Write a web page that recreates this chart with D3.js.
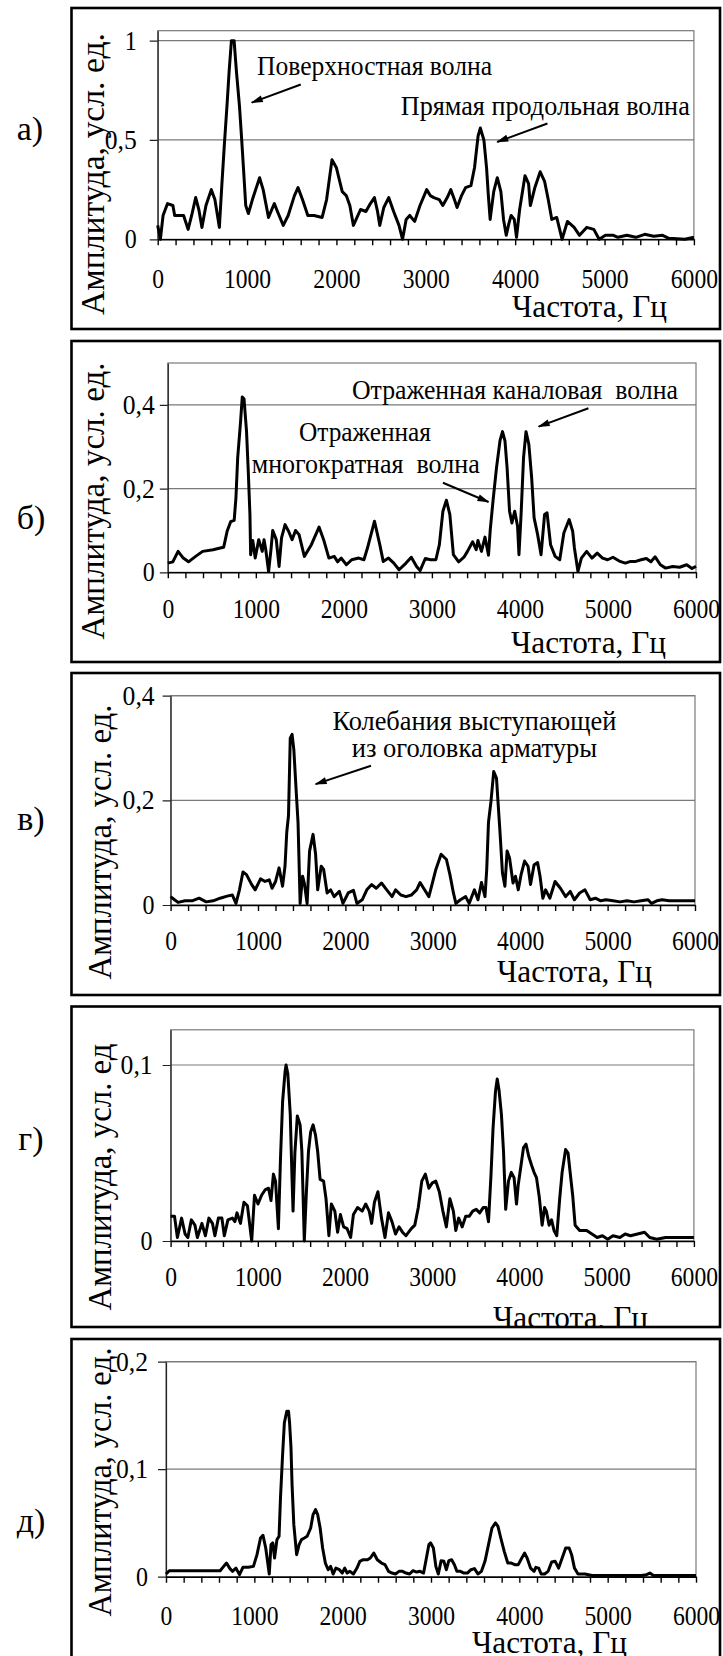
<!DOCTYPE html>
<html>
<head>
<meta charset="utf-8">
<script src="https://cdn.jsdelivr.net/npm/d3@7"></script>
<style>
  body { margin: 0; background: #fff; }
  svg { display: block; font-family: "Liberation Serif", "Times New Roman", serif; }
  text { white-space: pre; }
</style>
</head>
<body>
<svg width="723" height="1656"></svg>
<script>

// ------------- DATA -------------
const xMajor = [0, 1000, 2000, 3000, 4000, 5000, 6000];
const xMinorStep = 200;

const freqA = [0,30,60,110,170,190,290,340,380,425,460,495,540,600,640,690,720,745,775,800,825,855,880,915,940,965,985,1015,1060,1140,1180,1240,1305,1340,1405,1460,1530,1570,1620,1680,1750,1840,1890,1950,2000,2065,2110,2150,2190,2270,2330,2380,2425,2460,2485,2530,2585,2640,2700,2740,2780,2820,2875,2935,3010,3050,3090,3150,3190,3240,3280,3320,3350,3400,3445,3505,3545,3585,3610,3650,3680,3700,3720,3760,3800,3840,3870,3900,3930,3955,3990,4015,4050,4110,4150,4170,4220,4280,4330,4370,4410,4465,4525,4585,4660,4720,4800,4880,4940,5010,5100,5150,5250,5350,5450,5550,5650,5720,5900,6000];
const ampA  = [0.07,0,0.12,0.18,0.17,0.12,0.12,0.05,0.12,0.21,0.15,0.06,0.17,0.25,0.2,0.06,0.29,0.47,0.67,0.85,1,1,0.85,0.67,0.5,0.32,0.17,0.13,0.2,0.31,0.25,0.11,0.18,0.14,0.07,0.12,0.22,0.26,0.2,0.12,0.12,0.11,0.2,0.4,0.36,0.24,0.22,0.17,0.07,0.15,0.14,0.18,0.21,0.14,0.07,0.16,0.21,0.14,0.07,0,0.1,0.12,0.09,0.17,0.25,0.22,0.21,0.2,0.17,0.21,0.25,0.2,0.16,0.22,0.26,0.27,0.36,0.52,0.56,0.5,0.36,0.22,0.1,0.24,0.31,0.24,0.1,0.02,0.08,0.12,0.1,0.01,0.15,0.32,0.28,0.17,0.26,0.34,0.29,0.2,0.1,0.11,0,0.09,0.06,0.02,0.06,0.05,0,0.02,0.02,0.01,0.02,0.01,0.025,0.015,0.02,0.005,0,0.01];

const freqB = [0,57,117,176,235,316,396,515,595,635,674,714,754,774,794,826,846,866,894,914,933,941,965,993,1033,1073,1093,1113,1145,1172,1192,1232,1264,1292,1332,1372,1412,1451,1491,1551,1631,1718,1770,1830,1890,1930,1970,2029,2089,2169,2228,2268,2348,2408,2447,2507,2567,2627,2706,2766,2826,2866,2925,2985,3045,3085,3125,3165,3204,3244,3304,3364,3404,3463,3503,3523,3563,3603,3643,3663,3694,3734,3774,3802,3830,3854,3882,3909,3941,3973,3989,4013,4041,4069,4101,4133,4161,4201,4240,4280,4308,4348,4400,4452,4499,4559,4599,4619,4659,4698,4758,4818,4878,4938,4997,5057,5137,5197,5257,5316,5376,5436,5488,5536,5595,5655,5735,5814,5894,5954,6000];
const ampB  = [0.022,0.025,0.05,0.034,0.025,0.038,0.05,0.054,0.058,0.06,0.098,0.121,0.124,0.178,0.274,0.358,0.419,0.414,0.338,0.242,0.138,0.042,0.076,0.034,0.078,0.05,0.078,0.054,0.002,0.054,0.1,0.078,0.014,0.082,0.114,0.098,0.078,0.1,0.09,0.038,0.066,0.108,0.078,0.034,0.038,0.025,0.034,0.018,0.03,0.034,0.03,0.058,0.122,0.066,0.026,0.034,0.022,0.006,0.022,0.036,0.014,0.004,0.033,0.03,0.03,0.066,0.146,0.172,0.138,0.042,0.025,0.036,0.05,0.073,0.054,0.076,0.05,0.084,0.041,0.102,0.17,0.25,0.315,0.336,0.314,0.25,0.146,0.118,0.146,0.11,0.042,0.138,0.274,0.336,0.306,0.226,0.13,0.09,0.042,0.138,0.142,0.066,0.038,0.03,0.094,0.126,0.098,0.058,0.002,0.034,0.05,0.034,0.046,0.034,0.03,0.036,0.026,0.022,0.026,0.026,0.03,0.033,0.025,0.037,0.018,0.01,0.014,0.012,0.018,0.009,0.014];

const freqC = [0,45,85,166,246,326,407,487,567,647,707,748,788,828,868,928,968,1029,1081,1129,1161,1201,1241,1281,1309,1329,1349,1369,1390,1410,1442,1458,1482,1510,1530,1562,1590,1630,1659,1683,1723,1751,1791,1831,1871,1931,1972,2032,2092,2132,2192,2245,2301,2353,2413,2473,2534,2574,2634,2694,2754,2815,2855,2895,2955,2995,3035,3095,3156,3196,3236,3264,3316,3376,3416,3476,3517,3557,3597,3617,3637,3665,3697,3729,3745,3769,3797,3825,3850,3878,3918,3946,3978,4010,4050,4090,4118,4159,4199,4227,4259,4291,4339,4399,4460,4520,4572,4620,4680,4741,4801,4861,4921,4981,5062,5142,5222,5302,5383,5463,5503,5563,5623,5704,5784,5864,6000];
const ampC  = [0.016,0.01,0.005,0.008,0.008,0.013,0.006,0.008,0.013,0.017,0.019,0.003,0.029,0.063,0.058,0.039,0.029,0.05,0.045,0.048,0.032,0.045,0.071,0.036,0.074,0.139,0.171,0.319,0.326,0.297,0.203,0.158,0.003,0.055,0.042,0.003,0.103,0.135,0.097,0.029,0.074,0.068,0.023,0.029,0.016,0.026,0.003,0.023,0.028,0.003,0.01,0.029,0.039,0.032,0.042,0.029,0.016,0.029,0.019,0.016,0.019,0.029,0.043,0.032,0.016,0.042,0.068,0.097,0.087,0.058,0.023,0.003,0.01,0.016,0.003,0.029,0.01,0.043,0.016,0.068,0.158,0.197,0.255,0.242,0.2,0.139,0.061,0.036,0.103,0.09,0.042,0.055,0.029,0.058,0.084,0.074,0.039,0.077,0.081,0.055,0.013,0.029,0.013,0.045,0.032,0.016,0.026,0.01,0.023,0.029,0.01,0.013,0.008,0.01,0.008,0.006,0.008,0.006,0.008,0.01,0.003,0.008,0.01,0.008,0.008,0.008,0.008];

const freqD = [0,45,78,126,166,198,238,279,307,359,399,439,480,508,548,588,616,657,709,737,761,801,841,881,930,962,1002,1043,1083,1123,1151,1179,1203,1236,1260,1284,1312,1324,1344,1372,1392,1404,1425,1453,1485,1505,1533,1557,1581,1606,1634,1662,1686,1714,1754,1782,1815,1843,1883,1915,1947,1984,2024,2064,2096,2144,2197,2237,2277,2305,2337,2377,2418,2458,2498,2538,2579,2619,2659,2699,2760,2800,2840,2880,2921,2961,3001,3041,3081,3122,3162,3202,3242,3270,3303,3343,3383,3423,3464,3504,3544,3584,3616,3645,3673,3697,3725,3745,3765,3793,3817,3842,3874,3906,3938,3966,3986,4018,4046,4075,4107,4139,4167,4195,4227,4260,4288,4308,4340,4368,4396,4428,4461,4489,4529,4557,4581,4610,4638,4690,4770,4831,4891,4951,5012,5072,5152,5212,5273,5353,5434,5494,5574,5675,5755,5836,5916,6000];
const ampD  = [0.014,0.014,0.002,0.013,0.004,0.002,0.012,0.009,0.002,0.01,0.003,0.013,0.01,0.003,0.013,0.013,0.003,0.012,0.013,0.011,0.016,0.01,0.022,0.02,0,0.026,0.021,0.026,0.029,0.03,0.023,0.038,0.034,0.007,0.047,0.079,0.096,0.1,0.095,0.072,0.036,0.017,0.05,0.071,0.066,0.051,0,0.028,0.051,0.062,0.066,0.06,0.051,0.035,0.034,0.024,0.003,0.021,0.017,0.005,0.015,0.008,0.007,0.002,0.015,0.019,0.017,0.021,0.017,0.01,0.022,0.028,0.013,0.002,0.016,0.011,0.004,0.008,0.005,0.003,0.007,0.009,0.019,0.034,0.038,0.03,0.033,0.034,0.028,0.017,0.008,0.024,0.017,0.006,0.013,0.008,0.014,0.014,0.017,0.018,0.016,0.019,0.019,0.011,0.037,0.064,0.085,0.092,0.086,0.072,0.051,0.018,0.034,0.039,0.036,0.021,0.032,0.043,0.053,0.055,0.048,0.043,0.039,0.036,0.025,0.009,0.019,0.017,0.009,0.012,0.006,0.003,0.024,0.039,0.052,0.05,0.039,0.026,0.009,0.006,0.006,0.004,0.002,0.003,0.001,0.003,0.002,0.004,0.003,0.004,0.005,0.002,0.001,0.002,0.002,0.002,0.002,0.002];

const freqE = [0,37,216,415,613,653,685,724,752,792,832,871,931,990,1030,1070,1098,1129,1169,1189,1209,1229,1256,1280,1296,1320,1340,1368,1387,1399,1415,1427,1447,1479,1507,1534,1566,1598,1638,1665,1693,1717,1745,1773,1804,1836,1864,1892,1923,1963,1995,2023,2051,2082,2122,2162,2194,2233,2281,2313,2352,2392,2440,2479,2519,2559,2598,2638,2678,2717,2757,2797,2837,2876,2916,2948,2976,2996,3027,3055,3083,3115,3146,3174,3202,3234,3265,3293,3333,3373,3412,3452,3492,3531,3571,3611,3651,3690,3730,3758,3790,3829,3869,3909,3949,3988,4028,4060,4088,4127,4167,4187,4219,4247,4286,4326,4366,4406,4445,4485,4525,4564,4592,4624,4664,4743,4823,5379,5439,5478,5518,5617,5776,6000];
const ampE  = [0.0025,0.0056,0.0056,0.0056,0.0056,0.0096,0.0127,0.0075,0.005,0.008,0.0019,0.0087,0.0087,0.0096,0.0205,0.036,0.0385,0.0267,0.0025,0.0298,0.0314,0.0174,0.0345,0.0376,0.0733,0.1137,0.1432,0.154,0.154,0.1432,0.12,0.0857,0.0484,0.0205,0.0298,0.0345,0.036,0.0376,0.0453,0.0578,0.0624,0.0578,0.0453,0.0267,0.0127,0.0065,0.0096,0.0025,0.008,0.0065,0.0034,0.008,0.0034,0.005,0.0025,0.008,0.0143,0.0158,0.0158,0.0174,0.022,0.0158,0.0127,0.0112,0.005,0.0034,0.0025,0.005,0.005,0.0034,0.0025,0.0056,0.0043,0.005,0.0034,0.0174,0.0298,0.0314,0.0267,0.0096,0.0025,0.0149,0.0143,0.0065,0.0149,0.0158,0.0112,0.005,0.005,0.0034,0.0034,0.0065,0.0075,0.0025,0.005,0.0143,0.0298,0.0453,0.05,0.0469,0.036,0.0236,0.0127,0.0127,0.0112,0.0112,0.0174,0.022,0.0174,0.008,0.005,0.0087,0.008,0.0025,0.0025,0.005,0.0137,0.0143,0.008,0.0174,0.0267,0.0267,0.0205,0.008,0.0025,0.0025,0.0012,0.0012,0.0019,0.0034,0.0012,0.0012,0.0012,0.0012];

const yTicksA = [0, 0.5, 1];
const yTicksB = [0, 0.2, 0.4];
const yTicksC = [0, 0.2, 0.4];
const yTicksD = [0, 0.1];
const yTicksE = [0, 0.1, 0.2];

const letters = ["а)", "б)", "в)", "г)", "д)"];
const yTitles = ["Амплитуда, усл. ед.", "Амплитуда, усл. ед.", "Амплитуда, усл. ед.", "Амплитуда, усл. ед", "Амплитуда, усл. ед."];
const xTitle = "Частота, Гц";

const notesA = ["Поверхностная волна", "Прямая продольная волна"];
const notesB = ["Отраженная каналовая  волна", "Отраженная", "многократная  волна"];
const notesC = ["Колебания выступающей", "из оголовка арматуры"];

// ------------- LAYOUT -------------
const panels = [
  {freq: freqA, amp: ampA, yMax: 1.05, yTicks: yTicksA,
   box: [71.5, 8, 720, 329], plot: [157.7, 693.9, 30.7, 239.3],
   yPad: 13, yTitlePos: [92, 174], yTitleLen: 282, xPad: 30, xTitlePos: [667, 317], letterPos: [30, 128],
   notes: notesA, notePos: [[1111, 0.826, 235], [2720, 0.625, 289]],
   arrows: [[1601, 0.779, 1052, 0.688], [4361, 0.583, 3799, 0.49]]},
  {freq: freqB, amp: ampB, yMax: 0.5, yTicks: yTicksB,
   box: [71.5, 341, 720, 662], plot: [167.8, 696, 363, 572.3],
   yPad: 5, yTitlePos: [92, 501], yTitleLen: 277, xPad: 27, xTitlePos: [666, 653], letterPos: [31, 517],
   notes: notesB, notePos: [[2092, 0.415, 326], [1490, 0.3145, 132], [953, 0.238, 228]],
   arrows: [[4778, 0.392, 4212, 0.348], [3125, 0.214, 3643, 0.168]]},
  {freq: freqC, amp: ampC, yMax: 0.4, yTicks: yTicksC,
   box: [71.5, 673, 720, 995], plot: [170.6, 695, 695.7, 905],
   yPad: 8, yTitlePos: [99, 842], yTitleLen: 275, xPad: 26, xTitlePos: [652, 982], letterPos: [31, 818],
   notes: notesC, notePos: [[1851, 0.335, 284], [2072, 0.283, 245.5]],
   arrows: [[2293, 0.266, 1659, 0.231]]},
  {freq: freqD, amp: ampD, yMax: 0.12, yTicks: yTicksD,
   box: [71.5, 1006.5, 720, 1327], plot: [170.6, 693.9, 1029.8, 1241],
   yPad: 10, yTitlePos: [99, 1177], yTitleLen: 267, xPad: 26, xTitlePos: [648, 1328], letterPos: [31, 1138],
   notes: [], notePos: [], arrows: []},
  {freq: freqE, amp: ampE, yMax: 0.2, yTicks: yTicksE,
   box: [71.5, 1339, 720, 1690], plot: [166, 696, 1361.7, 1576.7],
   yPad: 10, yTitlePos: [99, 1482], yTitleLen: 269, xPad: 29, xTitlePos: [627, 1653], letterPos: [31, 1520],
   notes: [], notePos: [], arrows: []}
];

const ru = d3.formatLocale({decimal: ",", thousands: "", grouping: [3], currency: ["", ""]});
const fmt = ru.format("~g");

const svg = d3.select("svg");
const defs = svg.append("defs");
defs.append("marker")
    .attr("id", "arrow")
    .attr("viewBox", "0 0 12 8")
    .attr("refX", 11).attr("refY", 4)
    .attr("markerUnits", "userSpaceOnUse")
    .attr("markerWidth", 13).attr("markerHeight", 8)
    .attr("orient", "auto")
  .append("path")
    .attr("d", "M0,0.5L12,4L0,7.5Z")
    .attr("fill", "#000");

panels.forEach((p, i) => {
  const [bx0, by0, bx1, by1] = p.box;
  const [left, right, top, bottom] = p.plot;

  defs.append("clipPath").attr("id", "clip" + i)
    .append("rect")
      .attr("x", bx0).attr("y", by0)
      .attr("width", bx1 - bx0).attr("height", by1 - by0);

  const g = svg.append("g").attr("clip-path", `url(#clip${i})`);

  //--------------SCALES---------------------------------------
  const x = d3.scaleLinear().domain([0, 6000]).range([left, right]);
  const y = d3.scaleLinear().domain([0, p.yMax]).range([bottom, top]);

  // plot frame + grid
  g.append("rect")
    .attr("x", left).attr("y", top)
    .attr("width", right - left).attr("height", bottom - top)
    .attr("fill", "none").attr("stroke", "#7a7a7a").attr("stroke-width", 1.2);

  g.selectAll(".grid").data(p.yTicks.filter(t => t > 0)).join("line")
    .attr("x1", left).attr("x2", right)
    .attr("y1", d => y(d)).attr("y2", d => y(d))
    .attr("stroke", "#7a7a7a").attr("stroke-width", 1.2);

  //--------------AXES----------------------------------------
  const yAxis = g.append("g")
      .attr("transform", `translate(${left},0)`)
      .call(d3.axisLeft(y).tickValues(p.yTicks).tickSize(8).tickSizeOuter(0)
              .tickPadding(p.yPad).tickFormat(fmt));
  yAxis.attr("font-family", null).attr("font-size", 27);
  yAxis.selectAll("line, path").attr("stroke", "#222").attr("stroke-width", 1.2);
  yAxis.selectAll("text").attr("fill", "#000")
    .attr("textLength", d => fmt(d).length === 1 ? 12 : 32)
    .attr("lengthAdjust", "spacingAndGlyphs");

  const xAxis = g.append("g")
      .attr("transform", `translate(0,${bottom})`)
      .call(d3.axisBottom(x).tickValues(d3.range(0, 6001, xMinorStep)).tickSize(6)
              .tickSizeOuter(0).tickFormat(""));
  xAxis.selectAll("line, path").attr("stroke", "#000").attr("stroke-width", 1.4);

  const xLab = g.append("g")
      .attr("transform", `translate(0,${bottom})`)
      .call(d3.axisBottom(x).tickValues(xMajor).tickSize(0).tickPadding(p.xPad).tickFormat(fmt));
  xLab.select(".domain").remove();
  xLab.attr("font-family", null).attr("font-size", 27);
  xLab.selectAll("text").attr("fill", "#000")
    .attr("textLength", d => fmt(d).length * 11.8)
    .attr("lengthAdjust", "spacingAndGlyphs");

  //--------------SPECTRUM LINE-------------------------------
  const line = d3.line().x(d => x(d[0])).y(d => y(d[1]));
  g.append("path")
    .datum(d3.zip(p.freq, p.amp))
    .attr("fill", "none")
    .attr("stroke", "#000")
    .attr("stroke-width", 3)
    .attr("stroke-linejoin", "round")
    .attr("d", line);

  //--------------TITLES--------------------------------------
  g.append("text")
    .attr("transform", `translate(${p.yTitlePos[0]},${p.yTitlePos[1]}) rotate(-90)`)
    .attr("text-anchor", "middle")
    .attr("dominant-baseline", "central")
    .attr("font-size", 34)
    .attr("textLength", p.yTitleLen)
    .attr("lengthAdjust", "spacingAndGlyphs")
    .text(yTitles[i]);

  g.append("text")
    .attr("x", p.xTitlePos[0]).attr("y", p.xTitlePos[1])
    .attr("text-anchor", "end")
    .attr("font-size", 31)
    .attr("textLength", 155)
    .attr("lengthAdjust", "spacingAndGlyphs")
    .text(xTitle);

  //--------------ANNOTATIONS---------------------------------
  p.notes.forEach((t, k) => {
    const [hz, a, len] = p.notePos[k];
    g.append("text")
      .attr("x", x(hz)).attr("y", y(a))
      .attr("font-size", 28)
      .attr("textLength", len)
      .attr("lengthAdjust", "spacingAndGlyphs")
      .text(t);
  });

  g.selectAll(".arr").data(p.arrows).join("line")
    .attr("x1", d => x(d[0])).attr("y1", d => y(d[1]))
    .attr("x2", d => x(d[2])).attr("y2", d => y(d[3]))
    .attr("stroke", "#000").attr("stroke-width", 2)
    .attr("marker-end", "url(#arrow)");

  // outer box
  svg.append("rect")
    .attr("x", bx0).attr("y", by0)
    .attr("width", bx1 - bx0).attr("height", by1 - by0)
    .attr("fill", "none").attr("stroke", "#000").attr("stroke-width", 2.6);

  // panel letter
  svg.append("text")
    .attr("x", p.letterPos[0]).attr("y", p.letterPos[1])
    .attr("text-anchor", "middle")
    .attr("dominant-baseline", "central")
    .attr("font-size", 34)
    .text(letters[i]);
});
</script>
</body>
</html>
